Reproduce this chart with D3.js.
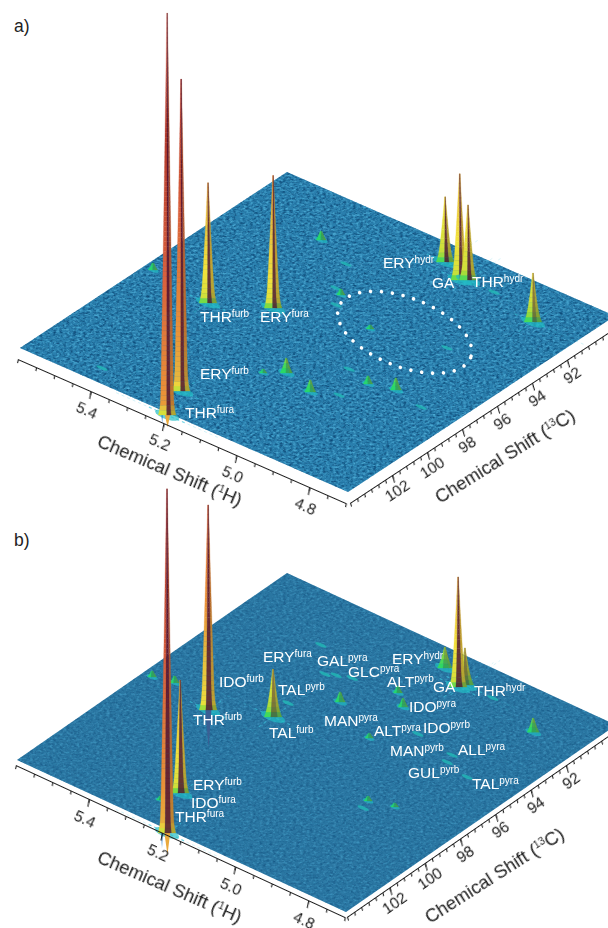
<!DOCTYPE html>
<html>
<head>
<meta charset="utf-8">
<script src="https://cdnjs.cloudflare.com/ajax/libs/d3/7.8.5/d3.min.js"></script>
<style>
  html, body { margin: 0; padding: 0; background: #fff; }
  svg { display: block; font-family: "Liberation Sans", Arial, sans-serif; }
</style>
</head>
<body>
<svg id="chart" width="608" height="928"></svg>
<script>
// ---- data (ppm 1H, ppm 13C, relative intensity) ----
const hRange = [5.6, 4.7];
const hTicks = [5.4, 5.2, 5.0, 4.8];
const cTicks = [102, 100, 98, 96, 94, 92];

const hA = [5.19, 5.227, 5.403, 5.283, 5.115, 5.046, 5.032, 4.82,
  5.374, 5.576, 5.099, 5.137, 5.012, 4.937, 4.876, 5.071, 5.204, 4.897,
  5.005, 4.957, 4.792, 4.959, 5.273, 5.23, 5.187, 5.415];
const cA = [104.53, 102.96, 97.76, 96.54, 90.21, 90.81, 90.63, 91.33,
  91.9, 97.3, 99.62, 100.15, 100.06, 98.32, 98.0, 95.41, 94.31, 94.64,
  97.98, 99.56, 98.31, 90.66, 92.58, 94.06, 94.94, 103.57];
const vA = [100, 77.6, 29.9, 33, 16.2, 26.4, 18.7, 12.2,
  2.2, 1.7, 3.7, 1, 3, 2, 3, 1, 1.5, 0.7,
  0.5, 0.5, 0.5, 0.5, 0.5, 0.5, 0.5, 0.5];
const dipA = [-3, 0, 0, 0, 0, 0, 0, 0];

const hB = [5.181, 5.405, 5.254, 5.282, 5.049, 5.043, 5.116, 4.819,
  5.207, 5.092, 5.134, 5.074, 5.29, 5.298, 5.277, 5.244, 5.374, 5.004,
  4.898, 4.889, 4.821, 4.966, 4.927, 4.869, 4.918, 5.575, 5.524, 5.27];
const cB = [104.58, 97.61, 102.32, 96.48, 90.82, 90.56, 90.18, 91.33,
  94.23, 93.05, 92.47, 95.34, 95.46, 93.2, 93.0, 92.78, 91.86, 94.03,
  94.29, 94.75, 95.03, 90.57, 98.45, 98.14, 98.91, 97.26, 97.04, 103.12];
const vB = [85.6, 51, 28.1, 11.9, 27.4, 9.2, 5.2, 3.5,
  2.5, 2.2, 1.7, 1.2, 0.5, 0.5, 0.7, 0.5, 0.5, 0.5,
  0.5, 0.5, 0.5, 0.5, 1.2, 1, 0.5, 1.5, 1.7, 1];
const dipB = [-5.5, -9.5, 0, 0, 0, 0, 0, 0];

const labelNamesA = ["ERY", "GA", "THR", "THR", "ERY", "ERY", "THR"];
const labelTagsA = ["hydr", "", "hydr", "furb", "fura", "furb", "fura"];

const labelNamesB = ["ERY", "GAL", "GLC", "ERY", "IDO", "TAL", "ALT", "GA", "THR", "IDO", "THR",
  "MAN", "TAL", "ALT", "IDO", "MAN", "ALL", "GUL", "TAL", "ERY", "IDO", "THR"];
const labelTagsB = ["fura", "pyra", "pyra", "hydr", "furb", "pyrb", "pyrb", "", "hydr", "pyra", "furb",
  "pyra", "furb", "pyra", "pyrb", "pyrb", "pyra", "pyrb", "pyra", "furb", "fura", "fura"];

// ---- layout ----
const labelAtA = [[383, 268], [432, 288], [472, 287], [200, 322], [260, 322], [200, 379], [185, 418]];
const labelAtB = [[263, 662], [317, 666], [348, 677], [392, 664], [219, 687], [278, 695], [387, 687],
  [433, 692], [474, 696], [409, 712], [193, 725], [324, 726], [269, 738], [374, 736], [423, 733],
  [390, 756], [458, 755], [408, 778], [472, 789], [193, 790], [191, 808], [175, 822]];

const svg = d3.select("#chart");
const defs = svg.append("defs");

// noise for the flat part of the surface
function speckle(id, seed, strength) {
  const f = defs.append("filter").attr("id", id)
    .attr("x", 0).attr("y", 0).attr("width", "100%").attr("height", "100%")
    .attr("color-interpolation-filters", "sRGB");
  f.append("feTurbulence").attr("type", "fractalNoise")
    .attr("baseFrequency", "0.3 0.48").attr("numOctaves", 2).attr("seed", seed).attr("result", "n");
  f.append("feColorMatrix").attr("in", "n").attr("type", "matrix")
    .attr("values", `0 0 0 0 0.06  0 0 0 0 0.30  0 0 0 0 0.48  ${strength} 0 0 0 ${-0.42 * strength}`)
    .attr("result", "dark");
  f.append("feColorMatrix").attr("in", "n").attr("type", "matrix")
    .attr("values", `0 0 0 0 0.30  0 0 0 0 0.68  0 0 0 0 0.84  0 ${strength} 0 0 ${-0.46 * strength}`)
    .attr("result", "light");
  f.append("feComposite").attr("in", "dark").attr("in2", "SourceGraphic").attr("operator", "in").attr("result", "d2");
  f.append("feComposite").attr("in", "light").attr("in2", "SourceGraphic").attr("operator", "in").attr("result", "l2");
  const m = f.append("feMerge");
  m.append("feMergeNode").attr("in", "SourceGraphic");
  m.append("feMergeNode").attr("in", "d2");
  m.append("feMergeNode").attr("in", "l2");
}
speckle("speckleA", 4, 2.4);
speckle("speckleB", 9, 1.3);

defs.append("filter").attr("id", "soft").attr("x", "-5%").attr("y", "-5%").attr("width", "110%").attr("height", "110%")
  .append("feGaussianBlur").attr("stdDeviation", 0.4);

// height -> colour, same for both panels
const zScale = d3.scaleLinear().domain([0, 100]).range([0, 402]);
const colorOf = d3.scaleLinear()
  .domain([0, 2, 6, 16, 30, 60, 100, 135, 220, 320, 402])
  .range(["#2a7fa8", "#1cc0b8", "#2ad866", "#8edc3c", "#cfe03a", "#f2e23c", "#e6bb3e", "#ea9238", "#d9603c", "#b23a2c", "#dc8a78"])
  .interpolate(d3.interpolateRgb);
const mix = (a, b, t) => d3.interpolateRgb(a, b)(t);

function drawPanel(P) {
  const hFrac = d3.scaleLinear().domain(hRange).range([1, 0]);
  const cFrac = d3.scaleLinear().domain(P.cRange).range([0, 1]);
  const xy = (h, c, z = 0) => [
    P.origin[0] + hFrac(h) * P.hVec[0] + cFrac(c) * P.cVec[0],
    P.origin[1] + hFrac(h) * P.hVec[1] + cFrac(c) * P.cVec[1] - z
  ];

  const root = svg.append("g");
  const surface = root.append("g").attr("filter", "url(#soft)");

  // flat surface
  const corners = [[hRange[1], P.cRange[0]], [hRange[0], P.cRange[0]], [hRange[0], P.cRange[1]], [hRange[1], P.cRange[1]]]
    .map(d => xy(d[0], d[1]));
  surface.append("polygon")
    .attr("points", corners.join(" "))
    .attr("fill", P.planeColor)
    .attr("filter", `url(#${P.speckle})`);

  const peaks = P.h.map((h, i) => ({ h, c: P.c[i], v: P.v[i], dip: P.dip[i] || 0 }));

  // ridges running out of the strong peaks
  peaks.filter(p => p.v > 9).forEach(p => {
    const spans = [
      [[p.h + 0.14, p.c], [p.h - 0.14, p.c], 0.22, 1],
      [[p.h + 0.05, p.c], [p.h - 0.05, p.c], 0.6, 1.2],
      [[p.h, Math.min(p.c + 2, 104.4)], [p.h, p.c - 2], 0.18, 1],
      [[p.h, Math.min(p.c + 0.8, 104.4)], [p.h, p.c - 0.8], 0.55, 1.2]
    ];
    spans.forEach(s => {
      const a = xy(s[0][0], s[0][1]), b = xy(s[1][0], s[1][1]);
      surface.append("line")
        .attr("x1", a[0]).attr("y1", a[1]).attr("x2", b[0]).attr("y2", b[1])
        .attr("stroke", "#3cc4dc").attr("stroke-opacity", s[2])
        .attr("stroke-width", s[3]).attr("stroke-dasharray", "3 3");
    });
  });

  const blob = (p, rh, rc) => d3.range(0, 2 * Math.PI, Math.PI / 8)
    .map(t => xy(p.h + rh * Math.cos(t), p.c + rc * Math.sin(t)));

  // back to front
  peaks.sort((a, b) => xy(a.h, a.c)[1] - xy(b.h, b.c)[1]);

  peaks.forEach(p => {
    const z = zScale(p.v);
    const base = xy(p.h, p.c);

    if (p.v <= 0.8) { // just a small bump
      surface.append("polygon").attr("points", blob(p, 0.015, 0.09).join(" "))
        .attr("fill", "#23b9b6").attr("fill-opacity", 0.8);
      return;
    }

    const W = Math.min(6.2, 2 + z * 0.15);
    surface.append("polygon").attr("points", blob(p, 0.005 * W, 0.04 * W).join(" "))
      .attr("fill", "#22bcc4").attr("fill-opacity", 0.7);

    if (p.dip < 0) { // negative lobe hanging under the surface
      const dz = zScale(-p.dip);
      const deep = -p.dip > 7;
      surface.append("polygon")
        .attr("points", [[base[0] - 3, base[1] - 3], [base[0] + 3.5, base[1] - 3], [base[0] + 0.5, base[1] + dz]].join(" "))
        .attr("fill", deep ? "#3a5f94" : "#e9a93e");
      if (!deep) {
        surface.append("polygon")
          .attr("points", [[base[0] - 6, base[1] - 4], [base[0] - 4, base[1] - 4], [base[0] - 5, base[1] + dz * 0.7]].join(" "))
          .attr("fill", "#2a7fd0");
      }
    }

    const n = Math.max(3, Math.ceil(z / 5));
    // narrow spike that flares out over the last few pixels
    const width = t => W * Math.pow(1 - t, 1.1) + 0.45 + W * 0.35 * Math.exp(-z * t / 7);
    const bands = d3.range(n).map(i => ({ t0: i / n, t1: (i + 1) / n }));
    const quad = (b, f0, f1) => {
      const w0 = width(b.t0), w1 = width(b.t1);
      const y0 = base[1] - z * b.t0, y1 = base[1] - z * b.t1;
      return [[base[0] + f0 * w0, y0], [base[0] + f1 * w0, y0], [base[0] + f1 * w1, y1], [base[0] + f0 * w1, y1]].join(" ");
    };
    // tall peaks stay warm low down, the foot is always green
    const bandColor = b => {
      const h = z * (b.t0 + b.t1) / 2;
      const warm = h + 0.3 * (z - h);
      return colorOf(h < 10 ? 6 + (warm - 6) * h / 10 : warm);
    };
    const facet = (f0, f1, tone) => surface.append("g").selectAll("polygon")
      .data(bands).join("polygon")
      .attr("points", b => quad(b, f0, f1))
      .attr("fill", b => tone(bandColor(b)))
      .attr("stroke", b => tone(bandColor(b)))
      .attr("stroke-width", 0.3);

    const dark = z > 60 ? 0.82 : z > 30 ? 0.5 : 0.25;
    facet(-1, P.stripe[0], c => c);
    facet(P.stripe[1], 1, c => mix(c, "#7a4a20", 0.4));
    facet(P.stripe[0], P.stripe[1], c => mix(c, "#4a0f30", dark));
  });

  // sugar labels
  const labels = root.append("g").attr("filter", "url(#soft)").selectAll("text")
    .data(P.labelNames).join("text")
    .attr("x", (d, i) => P.labelAt[i][0])
    .attr("y", (d, i) => P.labelAt[i][1])
    .attr("fill", "#fff")
    .attr("font-size", 15.5)
    .text(d => d);
  labels.append("tspan")
    .attr("dy", -5)
    .attr("font-size", 10)
    .text((d, i) => P.labelTags[i]);

  // axes, each a d3 axis pushed onto the floor with a matrix
  const axisOn = (edge0, edge1, gap, vDir, domain, major, minor, padding) => {
    const start = [edge0[0] + gap[0], edge0[1] + gap[1]];
    const end = [edge1[0] + gap[0], edge1[1] + gap[1]];
    const L = Math.hypot(end[0] - start[0], end[1] - start[1]);
    const u = [(end[0] - start[0]) / L, (end[1] - start[1]) / L];
    const scale = d3.scaleLinear().domain(domain).range([0, L]);
    const m = `matrix(${u[0]},${u[1]},${vDir[0]},${vDir[1]},${start[0]},${start[1]})`;
    const g = root.append("g").attr("transform", m).attr("filter", "url(#soft)");
    g.append("g").call(d3.axisBottom(scale).tickValues(minor).tickSize(4).tickSizeOuter(0).tickFormat(""));
    g.append("g").call(d3.axisBottom(scale).tickValues(major).tickSize(8).tickSizeOuter(0).tickPadding(padding).tickFormat(P.fmt(domain)));
    g.selectAll("path,line").attr("stroke", "#1c1c1c").attr("stroke-width", 1.1);
    // undo the shear on the numbers so they are only rotated
    const perp = [-u[1], u[0]];
    const det = u[0] * vDir[1] - u[1] * vDir[0];
    const beta = (u[0] * perp[1] - u[1] * perp[0]) / det;
    const alpha = (perp[0] * vDir[1] - perp[1] * vDir[0]) / det;
    g.selectAll("text")
      .attr("font-size", 15.5).attr("font-family", "Liberation Sans").attr("fill", "#1c1c1c")
      .attr("transform", `matrix(1,0,${alpha},${beta},0,0)`)
      .attr("x", -alpha * (8 + padding + 5));
  };
  axisOn(xy(hRange[0], P.cRange[0]), xy(hRange[1], P.cRange[0]), [P.gap[0], P.gap[1]], [-0.22, 0.97],
    hRange, hTicks, d3.range(4.7, 5.61, 0.05), 6);
  axisOn(xy(hRange[1], P.cRange[0]), xy(hRange[1], P.cRange[1]), [-P.gap[0], P.gap[1]], [0.28, 0.96],
    P.cRange, cTicks, d3.range(90, 104.4, 0.4), 2);

  // axis titles
  const title = (pos, angle, nucleusTop, nucleus) => {
    const t = root.append("text")
      .attr("transform", `translate(${pos[0]},${pos[1]}) rotate(${angle})`)
      .attr("font-size", 18.4).attr("fill", "#1c1c1c").attr("filter", "url(#soft)")
      .text("Chemical Shift (");
    t.append("tspan").attr("font-size", 10.5).attr("dy", -6.5).text(nucleusTop);
    t.append("tspan").attr("dy", 6.5).text(nucleus + ")");
  };
  title(P.titleH[0], P.titleH[1], "1", "H");
  title(P.titleC[0], P.titleC[1], "13", "C");

  root.append("text").attr("x", 14).attr("y", P.tagY)
    .attr("font-size", 17.5).attr("fill", "#222").text(P.tag);

  // the dotted ring only exists in panel a
  if (P.ring) {
    root.append("ellipse")
      .attr("transform", `translate(${P.ring[0]},${P.ring[1]}) rotate(${P.ring[4]})`)
      .attr("rx", P.ring[2]).attr("ry", P.ring[3])
      .attr("fill", "none").attr("stroke", "#fff").attr("stroke-width", 3.6)
      .attr("stroke-linecap", "round").attr("stroke-dasharray", "0 10.9");
  }
}

const fmt = domain => d => domain[0] > 50 ? d3.format("d")(d) : d3.format(".1f")(d);

drawPanel({
  tag: "a)", tagY: 32,
  origin: [348, 492], hVec: [-328, -144], cVec: [267, -176],
  cRange: [104.4, 89.14], gap: [-2, 11],
  planeColor: "#2a7fae", speckle: "speckleA", stripe: [-0.05, 0.45],
  h: hA, c: cA, v: vA, dip: dipA,
  labelNames: labelNamesA, labelTags: labelTagsA, labelAt: labelAtA,
  titleH: [[96, 446], 23], titleC: [[440, 504], -32],
  ring: [404.7, 332.3, 70.6, 34.5, 21], fmt
});

drawPanel({
  tag: "b)", tagY: 546,
  origin: [346, 912], hVec: [-329, -152], cVec: [270, -187],
  cRange: [104.4, 89.1], gap: [-1, 5],
  planeColor: "#2b76a2", speckle: "speckleB", stripe: [-0.25, 0.5],
  h: hB, c: cB, v: vB, dip: dipB,
  labelNames: labelNamesB, labelTags: labelTagsB, labelAt: labelAtB,
  titleH: [[96, 862], 23.3], titleC: [[430, 924], -32.6],
  ring: null, fmt
});
</script>
</body>
</html>
